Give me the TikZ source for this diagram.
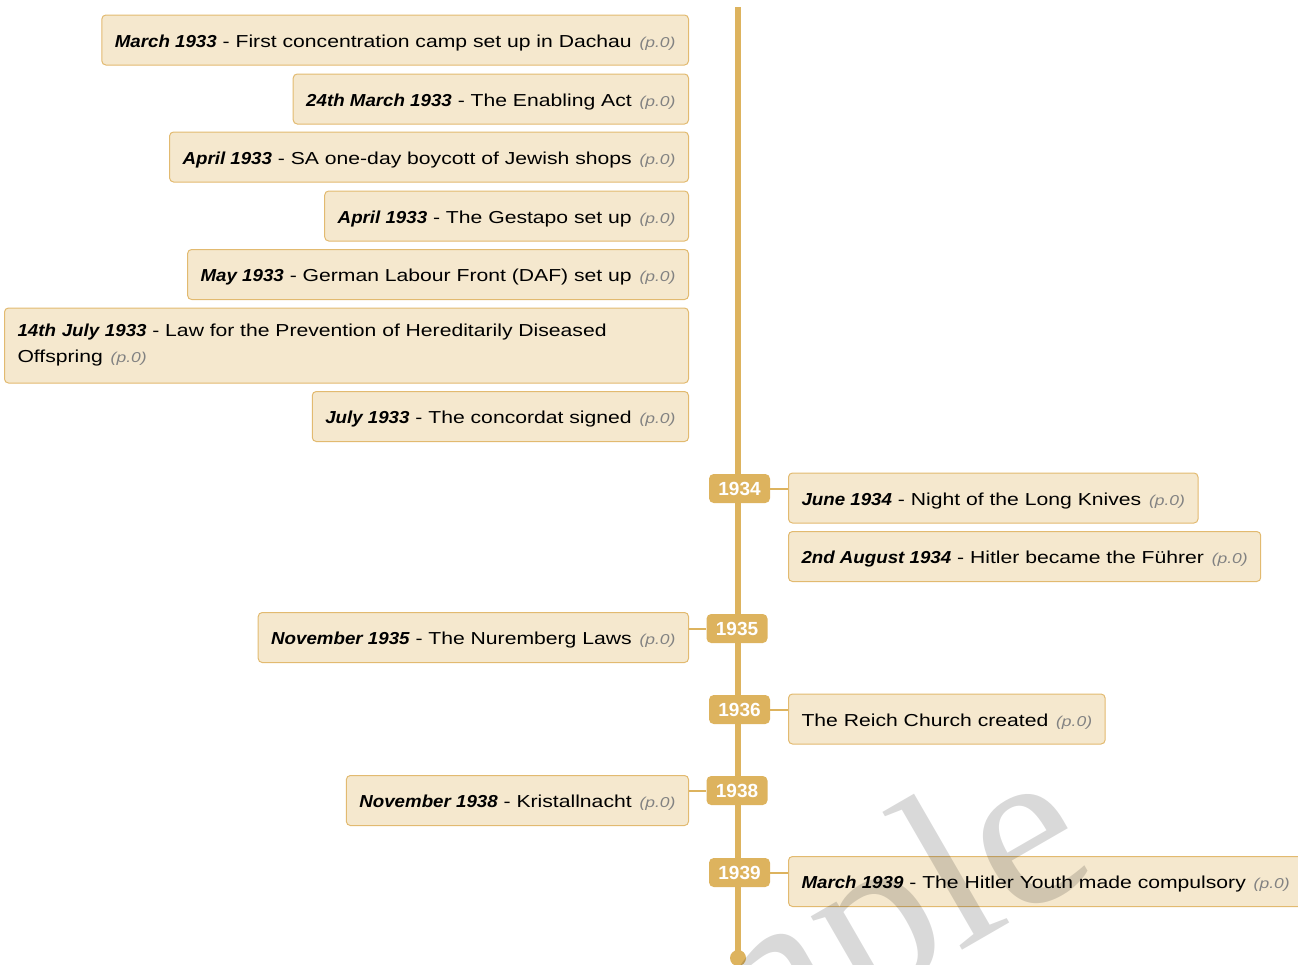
\documentclass[tikz,border=0pt]{standalone}
\usepackage{fontspec}
\setmainfont{Liberation Sans}[FakeStretch=1.22]
\newfontfamily\datafont{Liberation Sans}[FakeStretch=1.08]
\newfontfamily\annofont{Liberation Sans}
\newfontfamily\segnofont{Liberation Serif}

% Colori della linea del tempo
\definecolor{tlgold}{RGB}{221,179,94}
\definecolor{eventfill}{RGB}{245,232,206}
\definecolor{eventedge}{RGB}{226,186,112}
\definecolor{refgrey}{RGB}{130,130,130}

% Data in grassetto corsivo e riferimento alla pagina
\newcommand{\quando}[1]{{\datafont\bfseries\itshape #1}}
\newcommand{\rif}{\hspace{0.45em}{\itshape\fontsize{10.75}{12}\selectfont\color{refgrey}(p.0)}}

\tikzset{
  evento/.style={draw=eventedge, fill=eventfill, line width=0.75pt, rounded corners=3pt,
    minimum height=37.5pt, inner xsep=9.75pt, inner ysep=0pt, font=\fontsize{13}{19.5}\selectfont},
  riga/.style={evento, text height=13pt, text depth=2.2pt},
  sx/.style={riga, anchor=east},
  dx/.style={riga, anchor=west},
  anno/.style={fill=tlgold, text=white, rounded corners=3.5pt, minimum width=45.75pt,
    minimum height=21.75pt, inner sep=0pt, font=\annofont\bfseries\fontsize{14.25}{14.25}\selectfont},
  ramo/.style={tlgold, line width=1.5pt}
}

\begin{document}
\begin{tikzpicture}[x=0.75pt, y=-0.75pt]
        \useasboundingbox (0,0) rectangle (1298,964);

        % Estremi della linea del tempo
        \coordinate (cima) at (738,7);
        \coordinate (fondo) at (738,958);
        \draw[tlgold, line width=4.5pt] (cima) -- (fondo);
        \fill[tlgold] (fondo) circle (6pt);

        % Eventi del 1933 (a sinistra, senza etichetta dell'anno)
        \node[sx] (dachau) at (689,40) {\quando{March 1933} - First concentration camp set up in Dachau\rif};
        \node[sx] (enabling) at (689,99) {\quando{24th March 1933} - The Enabling Act\rif};
        \node[sx] (boicottaggio) at (689,157) {\quando{April 1933} - SA one-day boycott of Jewish shops\rif};
        \node[sx] (gestapo) at (689,216) {\quando{April 1933} - The Gestapo set up\rif};
        \node[sx] (daf) at (689,274.5) {\quando{May 1933} - German Labour Front (DAF) set up\rif};
        \node[evento, anchor=east, minimum height=56.25pt, text width=493.5pt, align=left] (eugenetica) at (689,345.5)
          {\quando{14th July 1933} - Law for the Prevention of Hereditarily Diseased\\Offspring\rif};
        \node[sx] (concordato) at (689,416.5) {\quando{July 1933} - The concordat signed\rif};

        % Anni sulla linea
        \node[anno] (a1934) at (739.5,488.5) {1934};
        \node[anno] (a1935) at (737,628.5) {1935};
        \node[anno] (a1936) at (739.5,709.5) {1936};
        \node[anno] (a1938) at (737,790.5) {1938};
        \node[anno] (a1939) at (739.5,872.5) {1939};

        % Eventi dal 1934 in poi
        \node[dx] (coltelli) at (788,498) {\quando{June 1934} - Night of the Long Knives\rif};
        \node[dx] (fuhrer) at (788,556.5) {\quando{2nd August 1934} - Hitler became the Führer\rif};
        \node[sx] (norimberga) at (689,637.5) {\quando{November 1935} - The Nuremberg Laws\rif};
        \node[dx] (chiesa) at (788,719) {The Reich Church created\rif};
        \node[sx] (kristallnacht) at (689,800.5) {\quando{November 1938} - Kristallnacht\rif};
        \node[dx] (gioventu) at (788,881.5) {\quando{March 1939} - The Hitler Youth made compulsory\rif};

        % Rami dagli anni ai riquadri
        \draw[ramo] (a1934.east) -- (a1934.east -| coltelli.west);
        \draw[ramo] (a1935.west) -- (a1935.west -| norimberga.east);
        \draw[ramo] (a1936.east) -- (a1936.east -| chiesa.west);
        \draw[ramo] (a1938.west) -- (a1938.west -| kristallnacht.east);
        \draw[ramo] (a1939.east) -- (a1939.east -| gioventu.west);

        % Filigrana
        \node[text=black, text opacity=0.15, rotate=30, anchor=base east, inner sep=0pt,
          font=\segnofont\fontsize{172}{172}\selectfont] (filigrana) at (1102,870) {Sample};
    \end{tikzpicture}
\end{document}
